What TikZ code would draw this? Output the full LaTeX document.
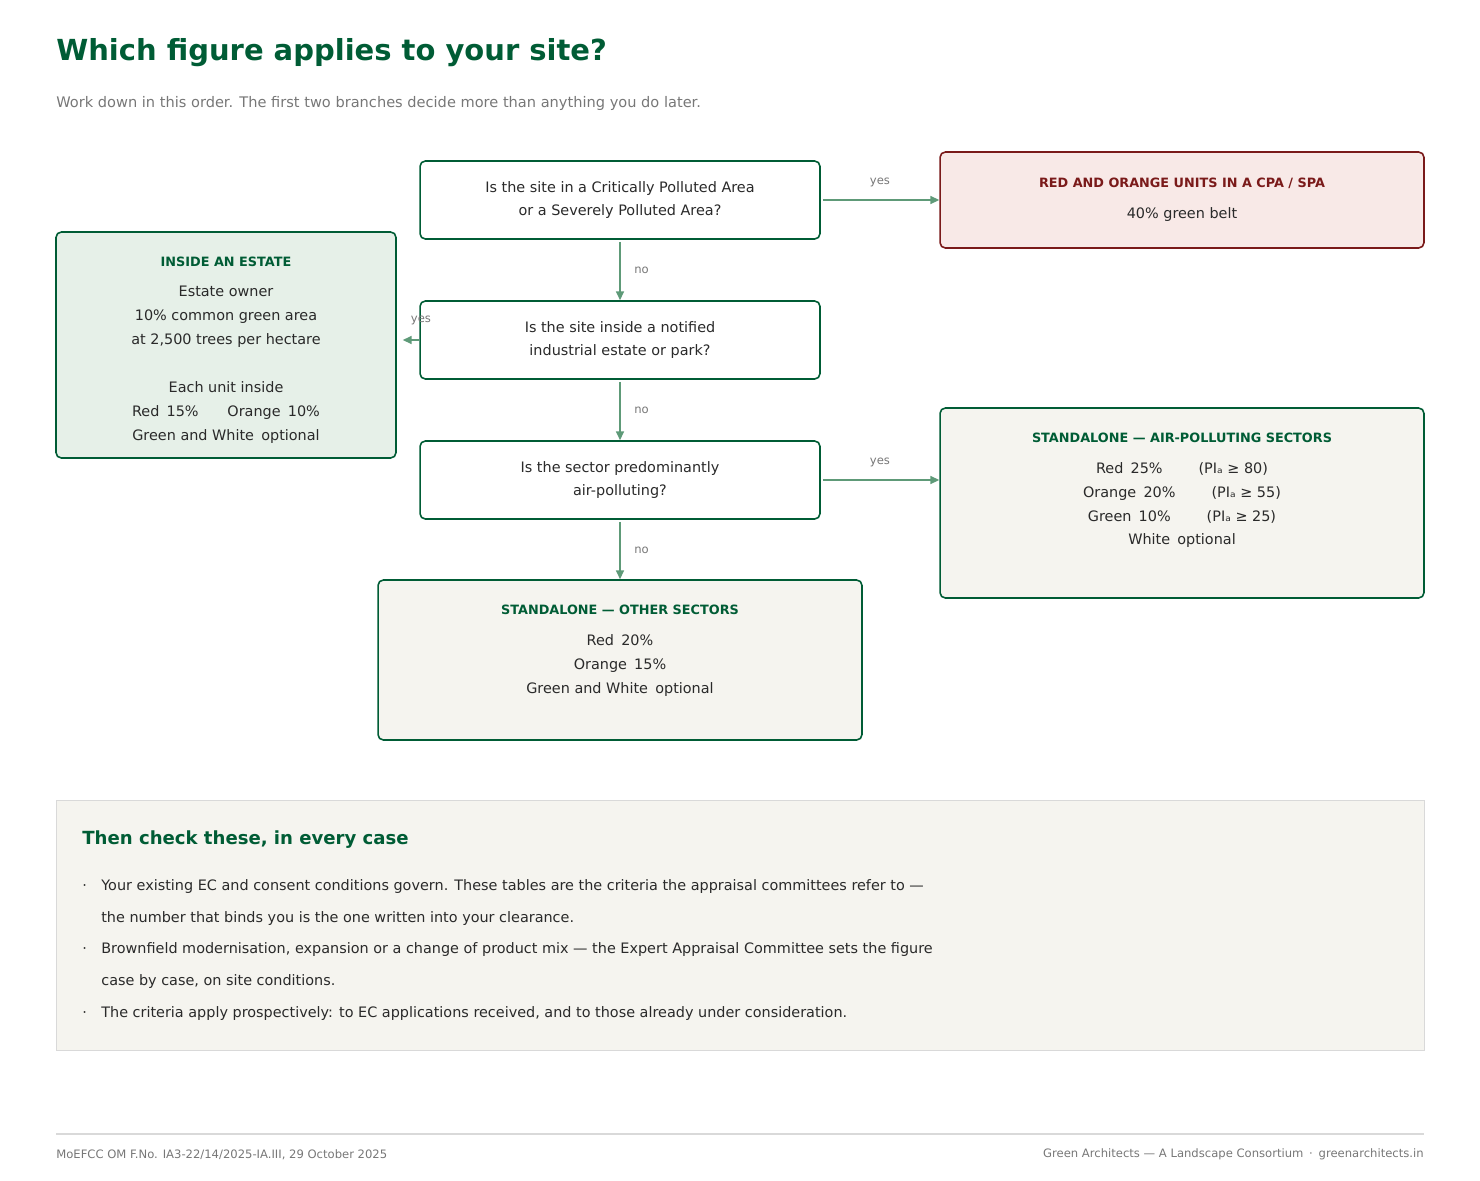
\documentclass[tikz,border=0pt]{standalone}
\usepackage{fontspec}
\setmainfont{DejaVu Sans}
\usetikzlibrary{arrows.meta, positioning}
\definecolor{dkgreen}{HTML}{005C35}
\definecolor{argreen}{HTML}{5E9A78}
\definecolor{dkred}{HTML}{7A1A1A}
\definecolor{redfill}{HTML}{F8E9E7}
\definecolor{greenfill}{HTML}{E6F0E8}
\definecolor{paper}{HTML}{F5F4EF}
\definecolor{ink}{HTML}{2A2A2A}
\definecolor{muted}{HTML}{777777}
\tikzset{
  qbox/.style={draw=dkgreen, line width=0.9pt, rounded corners=3pt, fill=white,
    minimum width=8cm, minimum height=1.56cm, inner sep=0pt},
  abox/.style={draw=dkgreen, line width=0.9pt, rounded corners=3pt, fill=paper, inner sep=0pt},
  body/.style={text=ink, font=\fontsize{8.2}{13.6}\selectfont, align=center, inner sep=0pt},
  head/.style={text=dkgreen, font=\fontsize{7.3}{9}\selectfont\bfseries, inner sep=0pt},
  flow/.style={draw=argreen, line width=0.9pt, -{Triangle[length=5pt,width=4.5pt]}},
  lab/.style={text=muted, font=\fontsize{6.6}{8}\selectfont, inner sep=0pt},
}
\begin{document}
\begin{tikzpicture}[x=0.02cm, y=-0.02cm]
\useasboundingbox (0,0) rectangle (1480,1180);
% heading
\node[anchor=west, text=dkgreen, font=\fontsize{16.5}{20}\selectfont\bfseries, inner sep=0pt] (title) at (56,53) {Which figure applies to your site?};
\node[anchor=west, text=muted, font=\fontsize{8.3}{10}\selectfont, inner sep=0pt] (sub) at (56,103) {Work down in this order. The first two branches decide more than anything you do later.};

% questions
\node[qbox] (q1) at (620,200) {};
\node[body] at (q1) {Is the site in a Critically Polluted Area\\or a Severely Polluted Area?};
\node[qbox] (q2) at (620,340) {};
\node[body] at (q2) {Is the site inside a notified\\industrial estate or park?};
\node[qbox] (q3) at (620,480) {};
\node[body] at (q3) {Is the sector predominantly\\air-polluting?};

% answers
\node[abox, draw=dkred, fill=redfill, minimum width=9.68cm, minimum height=1.92cm] (cpa) at (1182,200) {};
\node[head, text=dkred] at (1182,183) {RED AND ORANGE UNITS IN A CPA / SPA};
\node[body] at (1182,215) {40\% green belt};

\node[abox, fill=greenfill, minimum width=6.8cm, minimum height=4.52cm] (estate) at (226,345) {};
\node[head] at (226,262) {INSIDE AN ESTATE};
\node[body, anchor=north] at (226,286) {Estate owner\\10\% common green area\\at 2,500 trees per hectare\\[13.6pt]Each unit inside\\Red\enspace15\%\qquad Orange\enspace10\%\\Green and White\enspace optional};

\node[abox, minimum width=9.68cm, minimum height=3.8cm] (air) at (1182,503) {};
\node[head] at (1182,438) {STANDALONE — AIR-POLLUTING SECTORS};
\node[body, anchor=north] at (1182,462) {Red\enspace25\%\qquad\enspace(PIₐ ≥ 80)\\Orange\enspace20\%\qquad\enspace(PIₐ ≥ 55)\\Green\enspace10\%\qquad\enspace(PIₐ ≥ 25)\\White\enspace optional};

\node[abox, minimum width=9.68cm, minimum height=3.2cm] (other) at (620,660) {};
\node[head] at (620,610) {STANDALONE — OTHER SECTORS};
\node[body, anchor=north] at (620,634) {Red\enspace20\%\\Orange\enspace15\%\\Green and White\enspace optional};

% connectors
\draw[flow] (q1.east) ++(2,0) coordinate (s1) -- (s1 -| cpa.west);
\node[lab] at (880,182) {yes};
\draw[flow] (q1.south) ++(0,2) coordinate (s2) -- (q2.north);
\node[lab, anchor=west] at (634,270) {no};
\draw[flow] (q2.west) -- ([xshift=0.12cm]estate.east |- q2.west);
\node[lab] at (421,320) {yes};
\draw[flow] (q2.south) ++(0,2) coordinate (s3) -- (q3.north);
\node[lab, anchor=west] at (634,410) {no};
\draw[flow] (q3.east) ++(2,0) coordinate (s4) -- (s4 -| air.west);
\node[lab] at (880,462) {yes};
\draw[flow] (q3.south) ++(0,2) coordinate (s5) -- (other.north);
\node[lab, anchor=west] at (634,550) {no};

% checks
\node[draw=black!15, fill=paper, minimum width=27.36cm, minimum height=5cm, inner sep=0pt] (panel) at (740,925) {};
\node[anchor=west, text=dkgreen, font=\fontsize{10.3}{12}\selectfont\bfseries, inner sep=0pt] (ptitle) at (82,840) {Then check these, in every case};
\node[body, anchor=north west, align=left, font=\fontsize{8.2}{18.1}\selectfont] (plist) at (82,879)
 {·\quad Your existing EC and consent conditions govern. These tables are the criteria the appraisal committees refer to —\\
  \phantom{·\quad }the number that binds you is the one written into your clearance.\\
  ·\quad Brownfield modernisation, expansion or a change of product mix — the Expert Appraisal Committee sets the figure\\
  \phantom{·\quad }case by case, on site conditions.\\
  ·\quad The criteria apply prospectively: to EC applications received, and to those already under consideration.};

% footer
\draw[black!15, line width=0.6pt] (56,1134) -- (1424,1134);
\node[lab, anchor=west] (fl) at (56,1155) {MoEFCC OM F.No. IA3-22/14/2025-IA.III, 29 October 2025};
\node[lab, anchor=east] (fr) at (1424,1154) {Green Architects — A Landscape Consortium\enspace·\enspace greenarchitects.in};
\end{tikzpicture}
\end{document}
